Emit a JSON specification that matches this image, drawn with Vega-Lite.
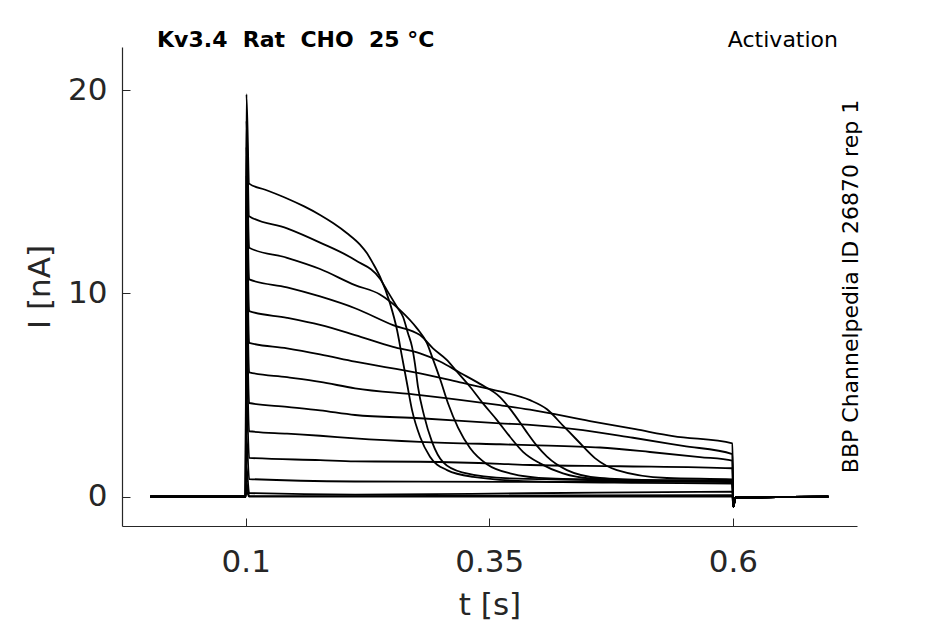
{
  "$schema": "https://vega.github.io/schema/vega-lite/v6.json",
  "autosize": "none",
  "width": 735,
  "height": 479,
  "padding": {"left": 122, "top": 47, "right": 88, "bottom": 98},
  "background": "white",
  "config": {
    "view": {"stroke": null},
    "font": "DejaVu Sans",
    "axis": {
      "grid": false,
      "domainColor": "#262626",
      "domainWidth": 1.2,
      "tickColor": "#262626",
      "tickWidth": 1,
      "tickSize": -8,
      "labelColor": "#262626",
      "titleColor": "#262626",
      "labelFont": "DejaVu Sans",
      "titleFont": "DejaVu Sans",
      "labelFontSize": 31,
      "titleFontSize": 31,
      "titleFontWeight": "normal"
    }
  },
  "datasets": {
    "traces": [
      {"k":1,"t":0.002,"i":0},{"k":1,"t":0.0999,"i":0},{"k":1,"t":0.1007,"i":19.8},{"k":1,"t":0.1035,"i":15.4},{"k":1,"t":0.12,"i":15.1},{"k":1,"t":0.1424,"i":14.67},{"k":1,"t":0.16,"i":14.28},{"k":1,"t":0.1763,"i":13.86},{"k":1,"t":0.19,"i":13.45},{"k":1,"t":0.204,"i":12.96},{"k":1,"t":0.2173,"i":12.4},{"k":1,"t":0.2245,"i":11.97},{"k":1,"t":0.2306,"i":11.48},{"k":1,"t":0.2378,"i":10.82},{"k":1,"t":0.2481,"i":9.51},{"k":1,"t":0.2553,"i":8.2},{"k":1,"t":0.2604,"i":6.89},{"k":1,"t":0.2655,"i":5.58},{"k":1,"t":0.2707,"i":4.26},{"k":1,"t":0.2789,"i":2.95},{"k":1,"t":0.2891,"i":1.97},{"k":1,"t":0.3066,"i":1.31},{"k":1,"t":0.3333,"i":0.98},{"k":1,"t":0.402,"i":0.74},{"k":1,"t":0.5,"i":0.68},{"k":1,"t":0.5995,"i":0.65},{"k":1,"t":0.6005,"i":-0.5},{"k":1,"t":0.6025,"i":-0.05},{"k":1,"t":0.698,"i":0},
      {"k":2,"t":0.002,"i":0},{"k":2,"t":0.0999,"i":0},{"k":2,"t":0.1007,"i":18.5},{"k":2,"t":0.1035,"i":13.8},{"k":2,"t":0.1424,"i":13.2},{"k":2,"t":0.1763,"i":12.5},{"k":2,"t":0.2122,"i":11.64},{"k":2,"t":0.2378,"i":10.72},{"k":2,"t":0.245,"i":10.15},{"k":2,"t":0.2553,"i":9.33},{"k":2,"t":0.2614,"i":8.85},{"k":2,"t":0.2666,"i":8.03},{"k":2,"t":0.2707,"i":7.37},{"k":2,"t":0.2738,"i":6.5},{"k":2,"t":0.2768,"i":5.4},{"k":2,"t":0.283,"i":4.0},{"k":2,"t":0.2912,"i":2.7},{"k":2,"t":0.3025,"i":1.7},{"k":2,"t":0.322,"i":1.2},{"k":2,"t":0.3712,"i":0.9},{"k":2,"t":0.5,"i":0.78},{"k":2,"t":0.5995,"i":0.72},{"k":2,"t":0.6005,"i":-0.5},{"k":2,"t":0.6025,"i":-0.05},{"k":2,"t":0.698,"i":0},
      {"k":3,"t":0.002,"i":0},{"k":3,"t":0.0999,"i":0},{"k":3,"t":0.1007,"i":17.2},{"k":3,"t":0.1035,"i":12.25},{"k":3,"t":0.1424,"i":11.75},{"k":3,"t":0.1763,"i":11.2},{"k":3,"t":0.2122,"i":10.41},{"k":3,"t":0.2378,"i":9.95},{"k":3,"t":0.2584,"i":9.18},{"k":3,"t":0.2758,"i":8.28},{"k":3,"t":0.2861,"i":7.54},{"k":3,"t":0.2912,"i":6.89},{"k":3,"t":0.2994,"i":5.8},{"k":3,"t":0.3076,"i":4.6},{"k":3,"t":0.3179,"i":3.4},{"k":3,"t":0.3302,"i":2.4},{"k":3,"t":0.3476,"i":1.6},{"k":3,"t":0.3712,"i":1.15},{"k":3,"t":0.4123,"i":0.9},{"k":3,"t":0.5,"i":0.82},{"k":3,"t":0.5995,"i":0.78},{"k":3,"t":0.6005,"i":-0.5},{"k":3,"t":0.6025,"i":-0.05},{"k":3,"t":0.698,"i":0},
      {"k":4,"t":0.002,"i":0},{"k":4,"t":0.0999,"i":0},{"k":4,"t":0.1007,"i":15.8},{"k":4,"t":0.1035,"i":10.69},{"k":4,"t":0.1424,"i":10.3},{"k":4,"t":0.1763,"i":9.85},{"k":4,"t":0.2122,"i":9.27},{"k":4,"t":0.2512,"i":8.44},{"k":4,"t":0.2789,"i":7.95},{"k":4,"t":0.2922,"i":7.3},{"k":4,"t":0.3066,"i":6.72},{"k":4,"t":0.3168,"i":6.15},{"k":4,"t":0.3302,"i":5.41},{"k":4,"t":0.3435,"i":4.59},{"k":4,"t":0.3579,"i":3.77},{"k":4,"t":0.3712,"i":2.95},{"k":4,"t":0.3846,"i":2.21},{"k":4,"t":0.402,"i":1.64},{"k":4,"t":0.4256,"i":1.15},{"k":4,"t":0.4533,"i":0.9},{"k":4,"t":0.5149,"i":0.8},{"k":4,"t":0.5995,"i":0.75},{"k":4,"t":0.6005,"i":-0.5},{"k":4,"t":0.6025,"i":-0.05},{"k":4,"t":0.698,"i":0},
      {"k":5,"t":0.002,"i":0},{"k":5,"t":0.0999,"i":0},{"k":5,"t":0.1007,"i":14.3},{"k":5,"t":0.1035,"i":9.13},{"k":5,"t":0.1424,"i":8.8},{"k":5,"t":0.1763,"i":8.45},{"k":5,"t":0.2122,"i":7.95},{"k":5,"t":0.2512,"i":7.37},{"k":5,"t":0.2789,"i":7.05},{"k":5,"t":0.2994,"i":6.65},{"k":5,"t":0.3199,"i":6.1},{"k":5,"t":0.3404,"i":5.55},{"k":5,"t":0.361,"i":4.9},{"k":5,"t":0.3733,"i":4.2},{"k":5,"t":0.3866,"i":3.3},{"k":5,"t":0.399,"i":2.5},{"k":5,"t":0.4092,"i":1.97},{"k":5,"t":0.4297,"i":1.31},{"k":5,"t":0.4636,"i":0.92},{"k":5,"t":0.5149,"i":0.82},{"k":5,"t":0.5995,"i":0.78},{"k":5,"t":0.6005,"i":-0.5},{"k":5,"t":0.6025,"i":-0.05},{"k":5,"t":0.698,"i":0},
      {"k":6,"t":0.002,"i":0},{"k":6,"t":0.0999,"i":0},{"k":6,"t":0.1007,"i":12.8},{"k":6,"t":0.1035,"i":7.57},{"k":6,"t":0.1424,"i":7.3},{"k":6,"t":0.1763,"i":7.0},{"k":6,"t":0.2122,"i":6.64},{"k":6,"t":0.2789,"i":6.07},{"k":6,"t":0.3199,"i":5.62},{"k":6,"t":0.361,"i":5.18},{"k":6,"t":0.3918,"i":4.75},{"k":6,"t":0.4092,"i":4.3},{"k":6,"t":0.4256,"i":3.5},{"k":6,"t":0.44,"i":2.79},{"k":6,"t":0.4584,"i":1.9},{"k":6,"t":0.481,"i":1.31},{"k":6,"t":0.5323,"i":0.92},{"k":6,"t":0.5995,"i":0.85},{"k":6,"t":0.6005,"i":-0.5},{"k":6,"t":0.6025,"i":-0.05},{"k":6,"t":0.698,"i":0},
      {"k":7,"t":0.002,"i":0},{"k":7,"t":0.0999,"i":0},{"k":7,"t":0.1007,"i":11},{"k":7,"t":0.1035,"i":6.12},{"k":7,"t":0.1424,"i":5.88},{"k":7,"t":0.1763,"i":5.65},{"k":7,"t":0.2122,"i":5.33},{"k":7,"t":0.2789,"i":5.0},{"k":7,"t":0.361,"i":4.5},{"k":7,"t":0.3918,"i":4.28},{"k":7,"t":0.4533,"i":3.72},{"k":7,"t":0.5,"i":3.32},{"k":7,"t":0.5385,"i":2.98},{"k":7,"t":0.5995,"i":2.63},{"k":7,"t":0.6005,"i":-0.5},{"k":7,"t":0.6025,"i":-0.05},{"k":7,"t":0.698,"i":0},
      {"k":8,"t":0.002,"i":0},{"k":8,"t":0.0999,"i":0},{"k":8,"t":0.1007,"i":9},{"k":8,"t":0.1035,"i":4.61},{"k":8,"t":0.1424,"i":4.42},{"k":8,"t":0.1763,"i":4.25},{"k":8,"t":0.2122,"i":4.02},{"k":8,"t":0.2789,"i":3.86},{"k":8,"t":0.361,"i":3.61},{"k":8,"t":0.3918,"i":3.53},{"k":8,"t":0.4461,"i":3.28},{"k":8,"t":0.4975,"i":2.9},{"k":8,"t":0.5488,"i":2.5},{"k":8,"t":0.5995,"i":2.1},{"k":8,"t":0.6005,"i":-0.5},{"k":8,"t":0.6025,"i":-0.05},{"k":8,"t":0.698,"i":0},
      {"k":9,"t":0.002,"i":0},{"k":9,"t":0.0999,"i":0},{"k":9,"t":0.1007,"i":7},{"k":9,"t":0.1035,"i":3.22},{"k":9,"t":0.1424,"i":3.1},{"k":9,"t":0.1763,"i":3.0},{"k":9,"t":0.2122,"i":2.87},{"k":9,"t":0.2789,"i":2.7},{"k":9,"t":0.361,"i":2.58},{"k":9,"t":0.3918,"i":2.54},{"k":9,"t":0.4636,"i":2.42},{"k":9,"t":0.5149,"i":2.2},{"k":9,"t":0.5662,"i":1.95},{"k":9,"t":0.5995,"i":1.77},{"k":9,"t":0.6005,"i":-0.5},{"k":9,"t":0.6025,"i":-0.05},{"k":9,"t":0.698,"i":0},
      {"k":10,"t":0.002,"i":0},{"k":10,"t":0.0999,"i":0},{"k":10,"t":0.1007,"i":5},{"k":10,"t":0.1035,"i":1.91},{"k":10,"t":0.1763,"i":1.8},{"k":10,"t":0.2122,"i":1.74},{"k":10,"t":0.2789,"i":1.72},{"k":10,"t":0.361,"i":1.62},{"k":10,"t":0.3918,"i":1.56},{"k":10,"t":0.4841,"i":1.5},{"k":10,"t":0.5995,"i":1.4},{"k":10,"t":0.6005,"i":-0.5},{"k":10,"t":0.6025,"i":-0.05},{"k":10,"t":0.698,"i":0},
      {"k":11,"t":0.002,"i":0},{"k":11,"t":0.0999,"i":0},{"k":11,"t":0.1007,"i":3},{"k":11,"t":0.1035,"i":0.87},{"k":11,"t":0.2122,"i":0.75},{"k":11,"t":0.2789,"i":0.74},{"k":11,"t":0.45,"i":0.73},{"k":11,"t":0.5995,"i":0.74},{"k":11,"t":0.6005,"i":-0.5},{"k":11,"t":0.6025,"i":-0.05},{"k":11,"t":0.698,"i":0},
      {"k":12,"t":0.002,"i":0},{"k":12,"t":0.0999,"i":0},{"k":12,"t":0.1007,"i":1.5},{"k":12,"t":0.1035,"i":0.18},{"k":12,"t":0.2122,"i":0.1},{"k":12,"t":0.3918,"i":0.17},{"k":12,"t":0.5995,"i":0.25},{"k":12,"t":0.6005,"i":-0.5},{"k":12,"t":0.6025,"i":-0.05},{"k":12,"t":0.698,"i":0},
      {"k":13,"t":0.002,"i":0},{"k":13,"t":0.0999,"i":0},{"k":13,"t":0.1007,"i":0.7},{"k":13,"t":0.1035,"i":0.03},{"k":13,"t":0.3,"i":0.04},{"k":13,"t":0.5995,"i":0.08},{"k":13,"t":0.6005,"i":-0.5},{"k":13,"t":0.6025,"i":-0.05},{"k":13,"t":0.698,"i":0},
      {"k":14,"t":0.002,"i":0},{"k":14,"t":0.0999,"i":0},{"k":14,"t":0.1007,"i":0.3},{"k":14,"t":0.1035,"i":0},{"k":14,"t":0.5995,"i":0},{"k":14,"t":0.6005,"i":-0.5},{"k":14,"t":0.6025,"i":-0.05},{"k":14,"t":0.698,"i":0}
    ],
    "notes": [
      {"t": 0.009, "i": 22.1, "label": "Kv3.4\u00a0\u00a0Rat\u00a0\u00a0CHO\u00a0\u00a025 °C", "kind": "title"},
      {"t": 0.7079, "i": 22.12, "label": "Activation", "kind": "protocol"},
      {"t": 0.7284, "i": 10.34, "label": "BBP Channelpedia ID 26870 rep 1", "kind": "source"}
    ]
  },
  "encoding": {
    "x": {
      "field": "t",
      "type": "quantitative",
      "scale": {"domain": [-0.027, 0.7274], "nice": false, "zero": false},
      "axis": {
        "values": [0.1, 0.35, 0.6],
        "labelExpr": "'' + datum.value",
        "title": "t [s]",
        "labelPadding": 29,
        "titleX": 367.5,
        "titleY": 88,
        "titleBaseline": "alphabetic"
      }
    },
    "y": {
      "field": "i",
      "type": "quantitative",
      "scale": {"domain": [-1.44, 22.12], "nice": false, "zero": false},
      "axis": {
        "values": [0, 10, 20],
        "labelExpr": "'' + datum.value",
        "title": "I [nA]",
        "labelPadding": 23,
        "titleX": -73,
        "titleY": 239.5,
        "titleAngle": 270,
        "titleAlign": "center",
        "titleBaseline": "alphabetic"
      }
    }
  },
  "layer": [
    {
      "data": {"name": "traces"},
      "mark": {"type": "line", "color": "black", "strokeWidth": 1.8, "interpolate": "monotone", "clip": true},
      "encoding": {"detail": {"field": "k", "type": "nominal"}}
    },
    {
      "data": {"name": "notes"},
      "transform": [{"filter": "datum.kind == 'title'"}],
      "mark": {"type": "text", "align": "left", "baseline": "alphabetic", "fontSize": 22, "fontWeight": "bold", "color": "black", "font": "DejaVu Sans"},
      "encoding": {"text": {"field": "label"}}
    },
    {
      "data": {"name": "notes"},
      "transform": [{"filter": "datum.kind == 'protocol'"}],
      "mark": {"type": "text", "align": "right", "baseline": "alphabetic", "fontSize": 22, "color": "black", "font": "DejaVu Sans"},
      "encoding": {"text": {"field": "label"}}
    },
    {
      "data": {"name": "notes"},
      "transform": [{"filter": "datum.kind == 'source'"}],
      "mark": {"type": "text", "align": "center", "baseline": "alphabetic", "angle": 270, "fontSize": 22, "color": "black", "font": "DejaVu Sans"},
      "encoding": {"text": {"field": "label"}}
    }
  ]
}
